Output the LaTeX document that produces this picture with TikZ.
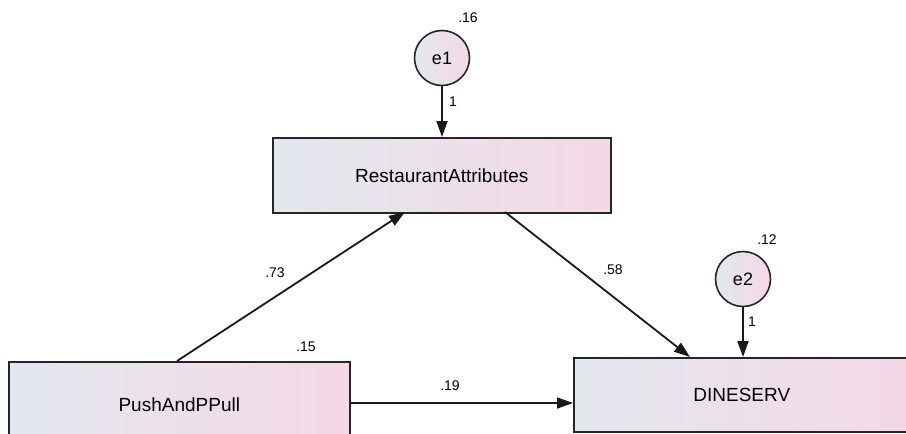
\documentclass[tikz,border=0pt]{standalone}
\usepackage{fontspec}
\setmainfont{Liberation Sans}
\usetikzlibrary{arrows.meta}
\begin{document}
\begin{tikzpicture}[x=1pt,y=-1pt,
  varbox/.style={draw=black!85,line width=1.6pt,left color=boxleft,right color=boxright,inner sep=0pt,anchor=north west,font=\fontsize{19}{19}\selectfont},
  errc/.style={draw=black!85,line width=1.6pt,circle,minimum size=55pt,inner sep=0pt,left color=boxleft,right color=boxright,font=\fontsize{18}{18}\selectfont},
  path/.style={line width=1.8pt,draw=black!90,-{Triangle[length=16pt,width=11pt]}},
  lbl/.style={font=\fontsize{14}{14}\selectfont,inner sep=0pt}]
\definecolor{boxleft}{HTML}{E3E8EE}
\definecolor{boxright}{HTML}{F4D8E6}
\useasboundingbox (0,0) rectangle (906,434);
\node[varbox,minimum width=338pt,minimum height=75pt] (ra) at (272,137) {RestaurantAttributes};
\node[varbox,minimum width=341pt,minimum height=85pt] (pp) at (8,361) {\raisebox{-4pt}{PushAndPPull}};
\node[varbox,minimum width=336pt,minimum height=74pt] (ds) at (573,357) {DINESERV};
\node[errc] (e1) at (442,58) {e1};
\node[errc] (e2) at (743,279) {e2};
\draw[path] (e1) -- (ra.north -| e1);
\draw[path] (e2) -- (ds.north -| e2);
\coordinate (ppt) at (177,361);
\coordinate (rab) at (405,212);
\coordinate (rab2) at (505,212);
\coordinate (dst) at (690,357);
\draw[path] (ppt) -- (rab);
\draw[path] (rab2) -- (dst);
\draw[path] (pp.east |- 0,403) -- (ds.west |- 0,403);
\node[lbl] (l16) at (468,18) {.16};
\node[lbl] (l12) at (767,240) {.12};
\node[lbl] (l15) at (306,347) {.15};
\node[lbl] (l1a) at (453,102) {1};
\node[lbl] (l1b) at (752,322) {1};
\node[lbl] (l73) at (275,273) {.73};
\node[lbl] (l58) at (613,270) {.58};
\node[lbl] (l19) at (450,386) {.19};
\end{tikzpicture}
\end{document}
